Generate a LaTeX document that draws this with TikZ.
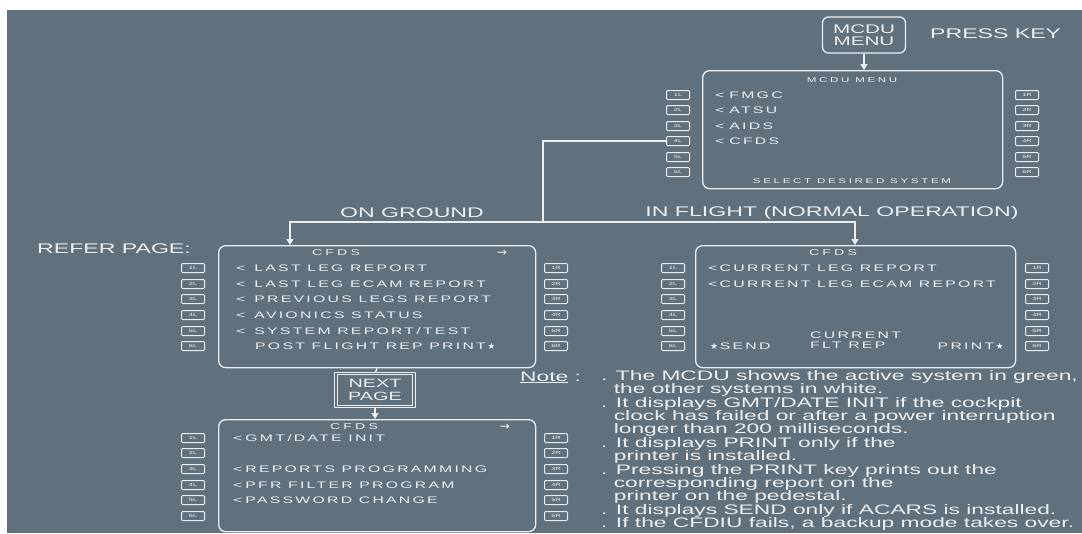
\documentclass[tikz,border=0pt]{standalone}
\usepackage{fontspec}
\setmainfont{Liberation Sans}[FakeStretch=1.65]
\newfontfamily\scrfont{Liberation Sans}[FakeStretch=1.65,LetterSpace=38]
\newfontfamily\itemfont{Liberation Sans}[FakeStretch=1.66,LetterSpace=24]
\newfontfamily\symfont{DejaVu Sans}
\usetikzlibrary{arrows.meta,positioning}
\definecolor{bg}{RGB}{96,112,124}
\definecolor{fg}{RGB}{236,239,241}
\newcommand{\dotind}{\phantom{.\ }}
\newcommand{\sstar}{{\symfont\fontsize{9}{9}\selectfont ★}}
\begin{document}
\begin{tikzpicture}[x=1pt,y=-1pt,
    every node/.style={text=fg},
    link/.style={draw=fg,line width=1.3pt},
    arr/.style={link,-{Triangle[width=7pt,length=6pt]}},
    screen/.style={draw=fg,line width=1.3pt,rounded corners=7pt,anchor=north west},
    lsk/.style={draw=fg,line width=1pt,rounded corners=1pt,minimum width=23pt,minimum height=9pt,inner sep=0pt,font=\fontsize{4.5}{5}\selectfont},
    item/.style={anchor=west,inner sep=0pt,font=\itemfont\fontsize{9.5}{10}\selectfont},
    tiny/.style={inner sep=0pt,font=\scrfont\fontsize{7}{7}\selectfont},
    title/.style={inner sep=0pt,font=\scrfont\fontsize{8.5}{8.5}\selectfont},
    big/.style={inner sep=0pt,font=\fontsize{14}{14}\selectfont},
    more/.style={inner sep=0pt,font=\symfont\fontsize{12}{12}\selectfont}]
  \useasboundingbox (0,0) rectangle (1082,533);
  \fill[bg] (7,10) rectangle (1082,533);
  \node[draw=fg,line width=1.3pt,rounded corners=6pt,minimum width=83pt,minimum height=36pt,
    inner sep=0pt,align=center,font=\fontsize{12.5}{11.5}\selectfont] (key) at (864,35) {MCDU\\MENU};
  \node[big,anchor=west] (press) at (930,34) {PRESS KEY};
  \node[screen,minimum width=300pt,minimum height=118pt] (menu) at (702,70) {};
  \node[tiny] (mtitle) at (852,80) {MCDU MENU};
  \node[item] (fmgc) at (715,95) {<\hspace{5pt}FMGC};
  \node[item] (atsu) at (715,110) {<\hspace{5pt}ATSU};
  \node[item] (aids) at (715,126) {<\hspace{5pt}AIDS};
  \node[item] (cfds) at (715,141) {<\hspace{5pt}CFDS};
  \node[tiny] (select) at (852,181) {SELECT DESIRED SYSTEM};
  \foreach \i/\y in {1/95,2/110,3/126,4/141,5/157,6/172} {
    \node[lsk] (mL\i) at (678,\y) {\i L};
    \node[lsk] (mR\i) at (1027,\y) {\i R};
  }
  \draw[arr] (key.south) -- (key.south |- menu.north);
  \node[big] (ground) at (412,213) {ON GROUND};
  \node[big] (flight) at (832,213) {IN FLIGHT (NORMAL OPERATION)};
  \node[screen,minimum width=317pt,minimum height=122pt] (gnd) at (218,245) {};
  \node[screen,minimum width=320pt,minimum height=122pt] (flt) at (695,245) {};
  \coordinate (split) at (543,222);
  \draw[link] (mL4.west) -| (split);
  \draw[arr] (split) -| ([xshift=72pt]gnd.north west);
  \draw[arr] (split) -| ([xshift=160pt]flt.north west);
  \node[big,anchor=west] (refer) at (37,249) {REFER PAGE:};
  \node[title] (gtitle) at (336,253) {CFDS};
  \node[more] (garr) at (502,253) {→};
  \node[item] (g1) at (236,268) {<\hspace{9pt}LAST LEG REPORT};
  \node[item] (g2) at (236,284) {<\hspace{9pt}LAST LEG ECAM REPORT};
  \node[item] (g3) at (236,299) {<\hspace{9pt}PREVIOUS LEGS REPORT};
  \node[item] (g4) at (236,315) {<\hspace{9pt}AVIONICS STATUS};
  \node[item] (g5) at (236,331) {<\hspace{9pt}SYSTEM REPORT/TEST};
  \node[item] (g6) at (255,346) {POST FLIGHT REP PRINT\,\sstar};
  \node[title] (ftitle) at (833,253) {CFDS};
  \node[item] (f1) at (708,268) {<CURRENT LEG REPORT};
  \node[item] (f2) at (708,284) {<CURRENT LEG ECAM REPORT};
  \node[item,anchor=north west,align=left,font=\itemfont\fontsize{9.5}{9.5}\selectfont] (fcur) at (810,332) {CURRENT\\FLT REP};
  \node[item] (fsend) at (710,346) {\sstar\,SEND};
  \node[item,anchor=east] (fprint) at (1004,346) {PRINT\,\sstar};
  \foreach \i/\y in {1/268,2/284,3/299,4/315,5/331,6/346} {
    \node[lsk] (gL\i) at (193,\y) {\i L};
    \node[lsk] (gR\i) at (556,\y) {\i R};
    \node[lsk] (fL\i) at (673,\y) {\i L};
    \node[lsk] (fR\i) at (1037,\y) {\i R};
  }
  \node[draw=fg,double=bg,double distance=1.6pt,line width=1pt,minimum width=78pt,minimum height=33pt,
    inner sep=0pt,align=center,font=\fontsize{12}{12.5}\selectfont] (next) at (375,390) {NEXT\\PAGE};
  \draw[link] (gnd.south) -- (next.north);
  \node[screen,minimum width=317pt,minimum height=112pt] (pg2) at (218,419) {};
  \draw[arr] (next.south) -- (next.south |- pg2.north);
  \node[title] (ptitle) at (354,427) {CFDS};
  \node[more] (parr) at (505,427) {→};
  \node[item] (p1) at (233,438) {<\hspace{3pt}GMT/DATE INIT};
  \node[item] (p3) at (233,469) {<\hspace{3pt}REPORTS PROGRAMMING};
  \node[item] (p4) at (233,485) {<\hspace{3pt}PFR FILTER PROGRAM};
  \node[item] (p5) at (233,500) {<\hspace{3pt}PASSWORD CHANGE};
  \foreach \i/\y in {1/438,2/453,3/469,4/485,5/500,6/516} {
    \node[lsk] (pL\i) at (193,\y) {\i L};
    \node[lsk] (pR\i) at (556,\y) {\i R};
  }
  \node[inner sep=0pt,anchor=base west,font=\fontsize{13.8}{13.4}\selectfont] (note) at (520,381) {\underline{Note} :};
  \node[inner sep=0pt,anchor=north west,align=left,font=\fontsize{13.8}{13.4}\selectfont] (notes) at (601,370) {%
    . The MCDU shows the active system in green,\\
    \dotind the other systems in white.\\
    . It displays GMT/DATE INIT if the cockpit\\
    \dotind clock has failed or after a power interruption\\
    \dotind longer than 200 milliseconds.\\
    . It displays PRINT only if the\\
    \dotind printer is installed.\\
    . Pressing the PRINT key prints out the\\
    \dotind corresponding report on the\\
    \dotind printer on the pedestal.\\
    . It displays SEND only if ACARS is installed.\\
    . If the CFDIU fails, a backup mode takes over.};
\end{tikzpicture}
\end{document}
